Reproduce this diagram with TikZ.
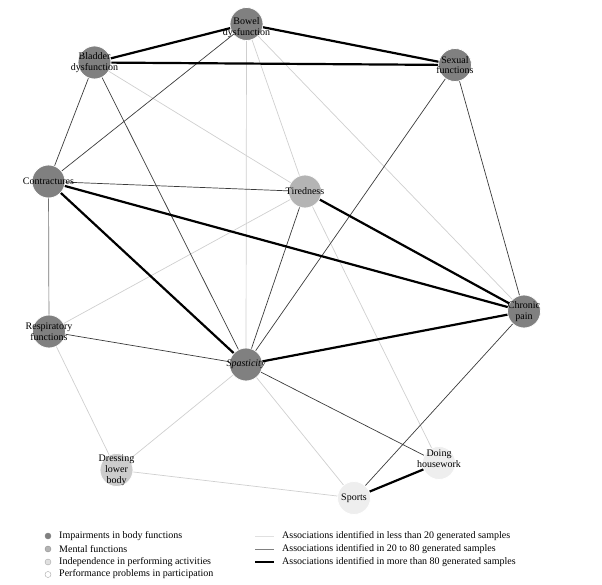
\documentclass[tikz,border=0pt]{standalone}
\usepackage{fontspec}
\setmainfont{Liberation Serif}
\definecolor{bodygray}{HTML}{808080}
\definecolor{mentalgray}{HTML}{B4B4B4}
\definecolor{activitygray}{HTML}{CCCCCC}
\definecolor{partgray}{HTML}{EEEEEE}
\definecolor{weakgray}{HTML}{CFCFCF}
\definecolor{midgray}{HTML}{3A3A3A}

\begin{document}
\begin{tikzpicture}[x=1pt,y=-1pt,
    every node/.style={font=\fontsize{10}{10.8}\selectfont},
    base/.style={circle, minimum size=33pt, inner sep=0pt, draw=white, line width=0.8pt},
    body/.style={base, fill=bodygray},
    mental/.style={base, fill=mentalgray},
    activity/.style={base, fill=activitygray},
    participation/.style={base, fill=partgray},
    key/.style={minimum size=6pt, inner sep=0pt, line width=0.4pt},
    lbl/.style={align=center, inner sep=0pt},
    weak/.style={draw=weakgray, line width=0.7pt},
    mid/.style={draw=midgray, line width=0.7pt},
    strong/.style={draw=black, line width=2.2pt}]
    \useasboundingbox (0,0) rectangle (602,585);
    \node [body] (bowel) at (246.5,24) {};
    \node [body] (bladder) at (94.5,62.5) {};
    \node [body] (sexual) at (455,65) {};
    \node [body] (contract) at (48.5,181.5) {};
    \node [mental] (tired) at (305,191.5) {};
    \node [body] (pain) at (524,311.5) {};
    \node [body] (resp) at (49,331.5) {};
    \node [body] (spast) at (246,364.5) {};
    \node [activity] (dress) at (116.5,470) {};
    \node [participation] (house) at (439,463) {};
    \node [participation] (sports) at (354,498) {};

    \draw [weak] (bowel) -- (spast);
    \draw [weak] (bowel) -- (tired);
    \draw [weak] (bowel) -- (pain);
    \draw [weak] (bladder) -- (tired);
    \draw [weak] (resp) -- (tired);
    \draw [weak] (resp) -- (dress);
    \draw [weak] (spast) -- (dress);
    \draw [weak] (spast) -- (sports);
    \draw [weak] (dress) -- (sports);
    \draw [weak] (tired) -- (house);

    \draw [mid] (bowel) -- (contract);
    \draw [mid] (bladder) -- (contract);
    \draw [mid] (bladder) -- (spast);
    \draw [mid] (contract) -- (tired);
    \draw [mid, draw=black!55] (contract) -- (resp);
    \draw [mid] (resp) -- (spast);
    \draw [mid] (sexual) -- (spast);
    \draw [mid] (sexual) -- (pain);
    \draw [mid] (tired) -- (spast);
    \draw [mid] (spast) -- (house);
    \draw [mid] (pain) -- (sports);

    \draw [strong] (bowel) -- (bladder);
    \draw [strong] (bowel) -- (sexual);
    \draw [strong] (bladder) -- (sexual);
    \draw [strong] (contract) -- (spast);
    \draw [strong] (contract) -- (pain);
    \draw [strong] (tired) -- (pain);
    \draw [strong] (spast) -- (pain);
    \draw [strong] (sports) -- (house);

    \node [lbl] (bowel-t) at ([yshift=-4pt]bowel) {Bowel\\dysfunction};
    \node [lbl] (bladder-t) at (bladder) {Bladder\\dysfunction};
    \node [lbl] (sexual-t) at (sexual) {Sexual\\functions};
    \node [lbl] (contract-t) at (contract) {Contractures};
    \node [lbl] (tired-t) at (tired) {Tiredness};
    \node [lbl] (pain-t) at (pain) {Chronic\\pain};
    \node [lbl] (resp-t) at (resp) {Respiratory\\functions};
    \node [lbl] (spast-t) at (spast) {\itshape Spasticity};
    \node [lbl] (dress-t) at (dress) {Dressing\\lower\\body};
    \node [lbl] (house-t) at ([yshift=4pt]house) {Doing\\housework};
    \node [lbl] (sports-t) at (sports) {Sports};

    \node [circle, key, fill=bodygray, draw=bodygray] (k1) at (48,536) {};
    \node [circle, key, fill=mentalgray, draw=mentalgray!80!black] (k2) at (48,549) {};
    \node [circle, key, fill=activitygray!60, draw=black!35] (k3) at (48,562) {};
    \node [circle, key, fill=white, draw=black!35] (k4) at (48,574.5) {};
    \node [lbl, anchor=west] (k1-t) at (59,536) {Impairments in body functions};
    \node [lbl, anchor=west] (k2-t) at (59,549) {Mental functions};
    \node [lbl, anchor=west] (k3-t) at (59,562) {Independence in performing activities};
    \node [lbl, anchor=west] (k4-t) at (59,574.5) {Performance problems in participation};

    \coordinate (l1a) at (255,536);
    \coordinate (l1b) at (274,536);
    \coordinate (l2a) at (255,549);
    \coordinate (l2b) at (274,549);
    \coordinate (l3a) at (255,562);
    \coordinate (l3b) at (274,562);
    \draw [weak, draw=black!12] (l1a) -- (l1b);
    \draw [mid, draw=black!50] (l2a) -- (l2b);
    \draw [strong, line width=1.6pt] (l3a) -- (l3b);
    \node [lbl, anchor=west] (l1-t) at (282,536) {Associations identified in less than 20 generated samples};
    \node [lbl, anchor=west] (l2-t) at (282,549) {Associations identified in 20 to 80 generated samples};
    \node [lbl, anchor=west] (l3-t) at (282,562) {Associations identified in more than 80 generated samples};
\end{tikzpicture}
\end{document}
